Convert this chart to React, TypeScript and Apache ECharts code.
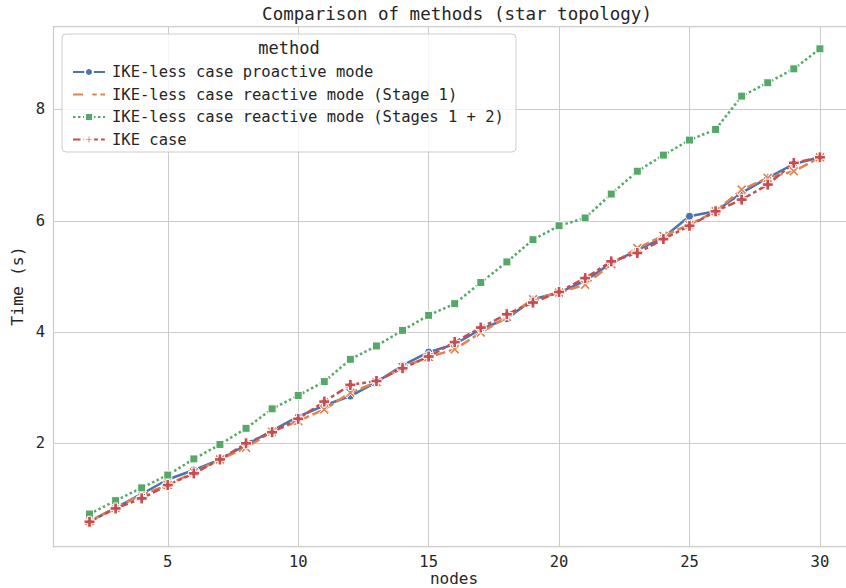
import React, { useEffect, useRef } from "react";
import * as echarts from "echarts";

const nodes = [2, 3, 4, 5, 6, 7, 8, 9, 10, 11, 12, 13, 14, 15, 16, 17, 18, 19, 20, 21, 22, 23, 24, 25, 26, 27, 28, 29, 30];
const proactive = [0.60, 0.84, 1.09, 1.35, 1.52, 1.71, 1.97, 2.23, 2.48, 2.68, 2.85, 3.10, 3.40, 3.64, 3.78, 4.05, 4.24, 4.59, 4.71, 4.92, 5.24, 5.47, 5.70, 6.08, 6.17, 6.50, 6.77, 7.02, 7.14];
const reactive1 = [0.60, 0.84, 1.08, 1.25, 1.48, 1.71, 1.92, 2.21, 2.40, 2.61, 2.91, 3.10, 3.37, 3.55, 3.69, 3.99, 4.27, 4.59, 4.71, 4.85, 5.22, 5.51, 5.73, 5.93, 6.17, 6.56, 6.77, 6.89, 7.14];
const reactive12 = [0.73, 0.97, 1.20, 1.43, 1.72, 1.98, 2.27, 2.62, 2.86, 3.11, 3.51, 3.75, 4.03, 4.30, 4.51, 4.89, 5.26, 5.66, 5.91, 6.05, 6.48, 6.89, 7.18, 7.45, 7.64, 8.24, 8.48, 8.73, 9.09];
const ikeCase = [0.59, 0.83, 1.01, 1.25, 1.46, 1.71, 2.00, 2.20, 2.44, 2.75, 3.05, 3.12, 3.35, 3.56, 3.82, 4.08, 4.32, 4.53, 4.72, 4.97, 5.27, 5.42, 5.67, 5.91, 6.17, 6.38, 6.65, 7.04, 7.14];

const seriesNames = [
  "IKE-less case proactive mode",
  "IKE-less case reactive mode (Stage 1)",
  "IKE-less case reactive mode (Stages 1 + 2)",
  "IKE case",
];
const xTicks = [5, 10, 15, 20, 25, 30];
const yTicks = [2, 4, 6, 8];

const FONT = '"DejaVu Sans Mono", monospace';
const TEXT = "#262626";
const GRID = "#cccccc";

const X_SYMBOL = "path://M0,2L2,0L6,4L10,0L12,2L8,6L12,10L10,12L6,8L2,12L0,10L4,6Z";
const P_SYMBOL = "path://M4,0H8V4H12V8H8V12H4V8H0V4H4Z";

function pairs(vals: number[]) {
  return nodes.map((n, i) => [n, vals[i]]);
}

export default function App() {
  const ref = useRef<HTMLDivElement>(null);
  useEffect(() => {
    if (!ref.current) return;
    const chart = echarts.init(ref.current, undefined, { renderer: "svg" });
    const mk = (
      name: string,
      vals: number[],
      color: string,
      symbol: string,
      size: number,
      dash: any
    ) => ({
      type: "line",
      name,
      data: pairs(vals),
      symbol,
      symbolSize: size,
      showSymbol: true,
      showAllSymbol: true,
      lineStyle: { color, width: 2.5, type: dash },
      itemStyle: { color, borderColor: "#ffffff", borderWidth: 1 },
      emphasis: { disabled: true },
    });
    chart.setOption({
      animation: false,
      backgroundColor: "#ffffff",
      grid: { left: 53, right: 0, top: 26, bottom: 42, outerBoundsMode: "none", containLabel: false },
      xAxis: {
        type: "value",
        min: 0.6,
        max: 31,
        name: "nodes",
        nameLocation: "middle",
        nameGap: 24,
        nameMoveOverlap: false,
        nameTextStyle: { fontFamily: FONT, fontSize: 16, color: TEXT, padding: [0, 0, 0, 9] },
        axisLine: { show: true, onZero: false, lineStyle: { color: GRID, width: 1.25 } },
        axisTick: { show: false, customValues: xTicks },
        axisLabel: { customValues: xTicks, fontFamily: FONT, fontSize: 15.5, color: TEXT, margin: 8 },
        splitLine: { show: true, lineStyle: { color: GRID, width: 1 } },
      },
      yAxis: {
        type: "value",
        min: 0.155,
        max: 9.5,
        name: "Time (s)",
        nameLocation: "middle",
        nameGap: 27,
        nameRotate: 90,
        nameMoveOverlap: false,
        nameTextStyle: { fontFamily: FONT, fontSize: 16.5, color: TEXT },
        axisLine: { show: true, onZero: false, lineStyle: { color: GRID, width: 1.25 } },
        axisTick: { show: false, customValues: yTicks },
        axisLabel: { customValues: yTicks, fontFamily: FONT, fontSize: 15.5, color: TEXT, margin: 8 },
        splitLine: { show: true, lineStyle: { color: GRID, width: 1 } },
      },
      legend: {
        orient: "vertical",
        left: 67,
        top: 59,
        itemWidth: 32,
        itemHeight: 10,
        itemGap: 6.5,
        data: seriesNames,
        textStyle: { fontFamily: FONT, fontSize: 15.5, color: TEXT, lineHeight: 16, padding: [0, 0, 0, 2] },
        z: 6,
      },
      graphic: [
        {
          type: "line",
          z: 1,
          shape: { x1: 53, y1: 26.5, x2: 846, y2: 26.5 },
          style: { stroke: GRID, lineWidth: 1.25 },
        },
        {
          type: "rect",
          z: 4,
          shape: { x: 62, y: 34, width: 454, height: 118, r: 4 },
          style: { fill: "rgba(255,255,255,0.8)", stroke: GRID, lineWidth: 1 },
        },
        {
          type: "text",
          z: 7,
          x: 289,
          y: 48,
          style: { text: "method", font: `17px ${FONT}`, fill: TEXT, align: "center", verticalAlign: "middle" },
        },
        {
          type: "text",
          z: 7,
          x: 457,
          y: 14,
          style: {
            text: "Comparison of methods (star topology)",
            font: `17.5px ${FONT}`,
            fill: TEXT,
            align: "center",
            verticalAlign: "middle",
          },
        },
      ],
      series: [
        mk(seriesNames[0], proactive, "#4C72B0", "circle", 8, "solid"),
        mk(seriesNames[1], reactive1, "#DD8452", X_SYMBOL, 10, [10, 3.75]),
        mk(seriesNames[2], reactive12, "#55A868", "rect", 8, [2.5, 2.5]),
        mk(seriesNames[3], ikeCase, "#C44E52", P_SYMBOL, 11, [7.5, 3.1, 3.75, 3.1]),
      ],
    });
    return () => chart.dispose();
  }, []);
  return (
    <div
      ref={ref}
      style={{ position: "fixed", left: 0, top: 0, width: 846, height: 588, background: "#fff" }}
    />
  );
}
